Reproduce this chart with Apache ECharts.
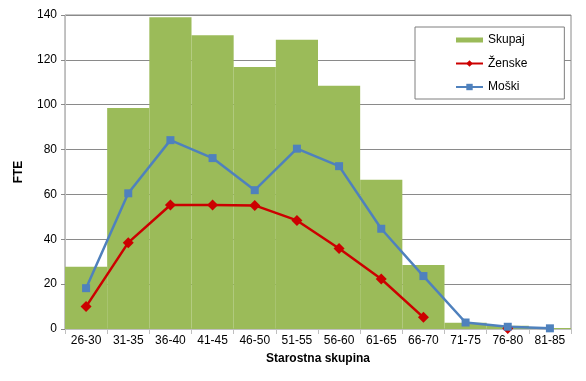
<!DOCTYPE html>
<html><head><meta charset="utf-8">
<script src="https://cdn.jsdelivr.net/npm/echarts@6/dist/echarts.min.js"></script>
<style>html,body{margin:0;padding:0;background:#fff}#c{width:586px;height:381px}</style>
</head><body><div id="c"></div>
<script>
var categories = ['26-30','31-35','36-40','41-45','46-50','51-55','56-60','61-65','66-70','71-75','76-80','81-85'];
var skupaj = [27.8, 98.5, 139, 131, 116.8, 129, 108.5, 66.5, 28.5, 2.8, 1.5, 0.4];
var zenske = [10, 38.5, 55.3, 55.3, 55.1, 48.4, 35.9, 22.3, 5.2, null, 0.2, null];
var moski = [18.2, 60.5, 84.2, 76.2, 61.9, 80.4, 72.6, 44.7, 23.6, 2.9, 1.0, 0.3];
var yTicks = {min: 0, max: 140, interval: 20};

var font = 'Liberation Sans, Arial, sans-serif';
var chart = echarts.init(document.getElementById('c'));
chart.setOption({
  animation: false,
  textStyle: {fontFamily: font},
  grid: {left: 65, right: 15, top: 15, bottom: 52, show: true, borderColor: '#8a8a8a', borderWidth: 1},
  legend: {
    orient: 'vertical', left: 415, top: 27,
    padding: [7, 37, 6, 40], itemGap: 11.5, itemWidth: 27, itemHeight: 8,
    borderColor: '#7f7f7f', borderWidth: 1, backgroundColor: '#fff',
    textStyle: {fontSize: 12, color: '#000', fontFamily: font},
    data: [
      {name: 'Skupaj', icon: 'path://M0,0L0.05,0L0.05,0.05Z M0,1.5L27,1.5L27,6.5L0,6.5Z M0,8L0.05,8L0.05,7.95Z', itemStyle: {borderWidth: 0}},
      {name: 'Ženske'},
      {name: 'Moški'}
    ]
  },
  xAxis: {
    type: 'category', data: categories,
    name: 'Starostna skupina', nameLocation: 'middle', nameGap: 24,
    nameTextStyle: {fontWeight: 'bold', fontSize: 12, color: '#000'},
    axisLine: {lineStyle: {color: '#bfbfbf', width: 1}},
    axisTick: {show: true, length: 5, lineStyle: {color: '#bfbfbf'}},
    axisLabel: {color: '#000', fontSize: 12, margin: 6}
  },
  yAxis: {
    type: 'value', min: yTicks.min, max: yTicks.max, interval: yTicks.interval,
    name: 'FTE', nameLocation: 'middle', nameGap: 40,
    nameTextStyle: {fontWeight: 'bold', fontSize: 12, color: '#000'},
    axisLine: {show: true, lineStyle: {color: '#bfbfbf', width: 1}},
    axisTick: {show: true, length: 4, lineStyle: {color: '#8a8a8a'}},
    axisLabel: {color: '#000', fontSize: 12, margin: 8},
    splitLine: {lineStyle: {color: '#8a8a8a', width: 1}}
  },
  series: [
    {name: 'Skupaj', type: 'bar', data: skupaj, barCategoryGap: '0%',
     itemStyle: {color: '#9bbb59', borderWidth: 0}},
    {name: 'Ženske', type: 'line', data: zenske, connectNulls: false,
     symbol: 'diamond', symbolSize: 11,
     lineStyle: {color: '#cc0000', width: 2.5}, itemStyle: {color: '#cc0000'}},
    {name: 'Moški', type: 'line', data: moski,
     symbol: 'rect', symbolSize: 8,
     lineStyle: {color: '#4f81bd', width: 2.5}, itemStyle: {color: '#4f81bd'}}
  ]
});
</script></body></html>
